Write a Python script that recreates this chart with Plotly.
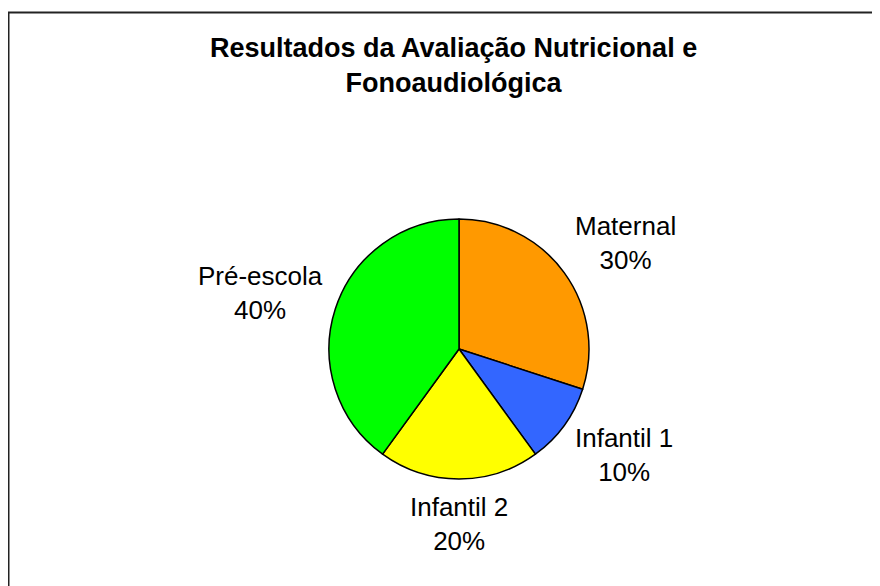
import math
import plotly.graph_objects as go

title_text = "Resultados da Avaliação Nutricional e<br>Fonoaudiológica"
categories = ["Maternal", "Infantil 1", "Infantil 2", "Pré-escola"]
values = [30, 10, 20, 40]
colors = ["#FF9900", "#3366FF", "#FFFF00", "#00FF00"]

W, H = 880, 586
OFF = 8  # page body margin offset
cx, cy, R = 459 - OFF, 349 - OFF, 130

fig = go.Figure(go.Pie(
    labels=categories,
    values=values,
    sort=False,
    direction="clockwise",
    rotation=0,
    marker=dict(colors=colors, line=dict(color="#000000", width=1.5)),
    textinfo="none",
    hoverinfo="label+percent",
    showlegend=False,
    domain=dict(x=[(cx - R) / W, (cx + R) / W], y=[1 - (cy + R) / H, 1 - (cy - R) / H]),
))

fig.add_annotation(
    text="<b>" + title_text + "</b>",
    x=(453 - OFF) / W, y=1 - (65.5 - OFF) / H, xref="paper", yref="paper",
    xanchor="center", yanchor="middle", showarrow=False,
    font=dict(family="Liberation Sans, Arial, sans-serif", size=27, color="#000000"),
)

total = sum(values)
cum = 0
for lab, v in zip(categories, values):
    mid = (cum + v / 2) / total * 2 * math.pi
    cum += v
    s, c = math.sin(mid), math.cos(mid)
    d = R + 11
    px = cx + s * d
    py = cy - c * d
    xa = "left" if s > 0.3 else ("right" if s < -0.3 else "center")
    ya = "bottom" if c > 0.7 else ("top" if c < -0.7 else "middle")
    shift = -c * 40 if ya == "middle" else 0
    fig.add_annotation(
        text=f"{lab}<br>{round(v / total * 100)}%",
        x=px / W, y=1 - (py + shift) / H, xref="paper", yref="paper",
        xanchor=xa, yanchor=ya, showarrow=False, align="center",
        font=dict(family="Liberation Sans, Arial, sans-serif", size=26, color="#000000"),
    )

fig.add_shape(
    type="path",
    path=f"M {0.5 / W} 0 L {0.5 / W} {1 - 4.5 / H} L 1 {1 - 4.5 / H}",
    xref="paper", yref="paper",
    line=dict(color="#222222", width=2),
)

fig.update_layout(
    width=W, height=H,
    margin=dict(l=0, r=0, t=0, b=0),
    paper_bgcolor="#FFFFFF",
    plot_bgcolor="#FFFFFF",
)

fig.write_html("out.html")
